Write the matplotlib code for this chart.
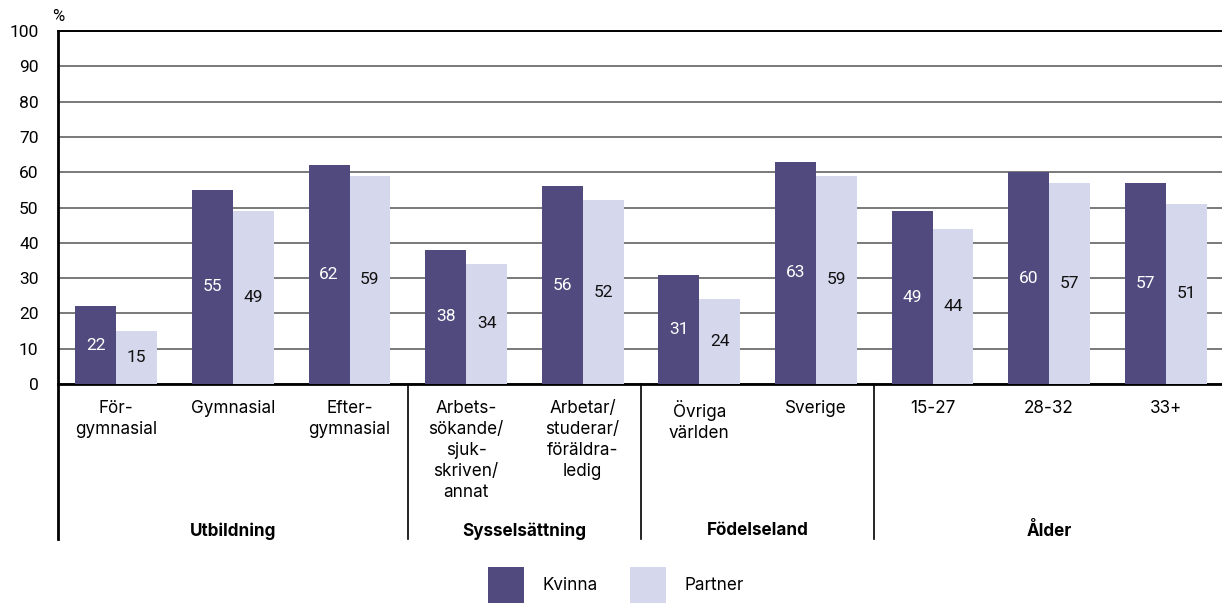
import matplotlib.pyplot as plt
from matplotlib.patches import Rectangle
import numpy as np

plt.rcParams["font.family"] = ["Roboto", "DejaVu Sans"]

categories = [
    "För-\ngymnasial", "Gymnasial", "Efter-\ngymnasial",
    "Arbets-\nsökande/\nsjuk-\nskriven/\nannat", "Arbetar/\nstuderar/\nföräldra-\nledig",
    "Övriga\nvärlden", "Sverige",
    "15-27", "28-32", "33+",
]
groups = ["Utbildning", "Sysselsättning", "Födelseland", "Ålder"]
group_sizes = [3, 2, 2, 3]
kvinna = [22, 55, 62, 38, 56, 31, 63, 49, 60, 57]
partner = [15, 49, 59, 34, 52, 24, 59, 44, 57, 51]
series_names = ["Kvinna", "Partner"]

C_KVINNA = "#504a7e"
C_PARTNER = "#d5d7ec"
LABEL_FONT = ["Inter", "DejaVu Sans"]

W, H = 1222, 603
fig = plt.figure(figsize=(W / 100, H / 100), dpi=100)
ax = fig.add_axes([58 / W, 1 - 384 / H, 1166 / W, 353 / H])

x = np.arange(len(categories))
bw = 0.35
ax.bar(x - bw / 2, kvinna, bw, color=C_KVINNA, zorder=3)
ax.bar(x + bw / 2, partner, bw, color=C_PARTNER, zorder=3)

for xi, v in zip(x - bw / 2, kvinna):
    ax.text(xi, v / 2, str(v), ha="center", va="center", color="white", fontsize=12.5, zorder=4)
for xi, v in zip(x + bw / 2, partner):
    ax.text(xi, v / 2, str(v), ha="center", va="center", color="#111111", fontsize=12.5, zorder=4)

ax.set_xlim(-0.5, len(categories) - 0.5)
ax.set_ylim(0, 100)
ax.set_yticks(range(0, 101, 10))
ax.tick_params(axis="y", length=0, pad=14, labelsize=12.5)
ax.set_xticks([])
ax.yaxis.grid(True, color="#555555", linewidth=1.1, zorder=0)
ax.set_axisbelow(True)

for s in ("left", "bottom"):
    ax.spines[s].set_linewidth(2)
    ax.spines[s].set_color("black")
ax.spines["top"].set_linewidth(1.4)
ax.spines["right"].set_visible(False)

ax.text(0, 1.04, "%", transform=ax.transAxes, ha="center", va="center", fontsize=12)

# category labels and group separators below the axis
for xi, lab in zip(x, categories):
    ax.text(xi, -4.6, lab, ha="center", va="top", fontsize=12.3, linespacing=1.3,
            family=LABEL_FONT, clip_on=False)

start = 0
edges = [-0.5]
for g, n in zip(groups, group_sizes):
    mid = start + (n - 1) / 2
    ax.text(mid, -41.6, g, ha="center", va="center", fontsize=12.3, fontweight="bold",
            family=LABEL_FONT, clip_on=False)
    start += n
    edges.append(start - 0.5)
for e in edges[:-1]:
    ax.plot([e, e], [0, -43.8], color="black", linewidth=1.2 if e > -0.5 else 2,
            clip_on=False, zorder=5)

# legend: colour squares with labels, centred under the chart
for (sx, tx), name, col in zip([(488, 543), (630, 685)], series_names, [C_KVINNA, C_PARTNER]):
    fig.patches.append(Rectangle((sx / W, 0), 36 / W, 36 / H, transform=fig.transFigure,
                                 facecolor=col, edgecolor="none"))
    fig.text(tx / W, 1 - 586 / H, name, ha="left", va="center", fontsize=12.3, family=LABEL_FONT)

fig.savefig("out.png", dpi=100)
